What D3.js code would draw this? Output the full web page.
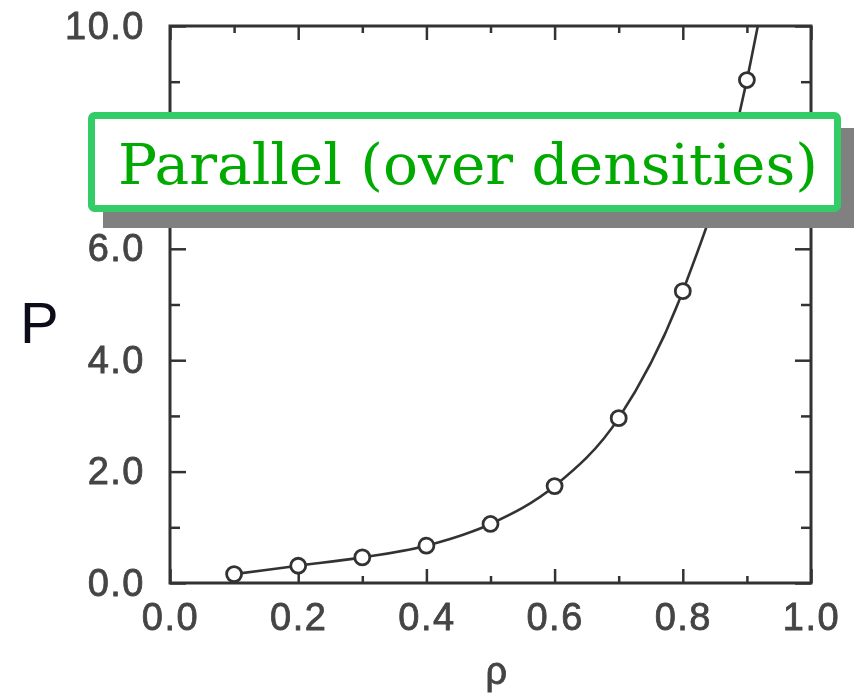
<!doctype html>
<html>
<head>
<meta charset="utf-8">
<script src="https://cdn.jsdelivr.net/npm/d3@7"></script>
<style>
  html, body { margin: 0; padding: 0; background: #fff; }
</style>
</head>
<body>
<script>
// Data
const rho = [0.1, 0.2, 0.3, 0.4, 0.5, 0.6, 0.7, 0.8, 0.9];
const pressure = [0.16, 0.31, 0.46, 0.67, 1.06, 1.74, 2.96, 5.24, 9.03];
// fitted curve continues past the last point up to the top of the frame
const curveEndRho = 0.917;
const curveEndP = 10.0;

const xMajor = [0.0, 0.2, 0.4, 0.6, 0.8, 1.0];
const xMinor = [0.1, 0.3, 0.5, 0.7, 0.9];
const yMajor = [0, 2, 4, 6, 8, 10];
const yMinor = [1, 3, 5, 7, 9];

const annotation = "Parallel (over densities)";

const W = 854, H = 697;
const plot = { left: 170, right: 811, top: 26, bottom: 583 };
const ink = "#333";

const x = d3.scaleLinear().domain([0, 1]).range([plot.left, plot.right]);
const y = d3.scaleLinear().domain([0, 10]).range([plot.bottom, plot.top]);

const svg = d3.select("body").append("svg")
  .attr("width", W).attr("height", H)
  .style("display", "block");

const defs = svg.append("defs");
defs.append("filter").attr("id", "soft")
  .append("feGaussianBlur").attr("stdDeviation", 0.7);
defs.append("clipPath").attr("id", "plotclip")
  .append("rect")
  .attr("x", plot.left).attr("y", plot.top)
  .attr("width", plot.right - plot.left)
  .attr("height", plot.bottom - plot.top);

const chart = svg.append("g").attr("filter", "url(#soft)");

const fmt = d3.format(".1f");
const tickFont = '"Liberation Sans", Arial, Helvetica, sans-serif';

function labelStyle(sel) {
  sel.attr("fill", "#444")
    .attr("stroke", "#444")
    .attr("stroke-width", 0.8)
    .attr("font-family", tickFont)
    .attr("font-size", 38)
    .attr("letter-spacing", 1.5);
}

function styleAxis(g, withText) {
  g.select(".domain").remove();
  g.selectAll("line").attr("stroke", ink).attr("stroke-width", 2.5);
  if (withText) {
    g.selectAll("text").call(labelStyle);
  } else {
    g.selectAll("text").remove();
  }
}

// Bottom axis (ticks point inward)
chart.append("g")
  .attr("transform", `translate(0,${plot.bottom})`)
  .call(d3.axisBottom(x).tickValues(xMajor).tickSize(-14).tickPadding(20).tickFormat(fmt))
  .call(g => styleAxis(g, true));
chart.append("g")
  .attr("transform", `translate(0,${plot.bottom})`)
  .call(d3.axisBottom(x).tickValues(xMinor).tickSize(-7))
  .call(g => styleAxis(g, false));

// Top axis
chart.append("g")
  .attr("transform", `translate(0,${plot.top})`)
  .call(d3.axisTop(x).tickValues(xMajor).tickSize(-14))
  .call(g => styleAxis(g, false));
chart.append("g")
  .attr("transform", `translate(0,${plot.top})`)
  .call(d3.axisTop(x).tickValues(xMinor).tickSize(-7))
  .call(g => styleAxis(g, false));

// Left axis
chart.append("g")
  .attr("transform", `translate(${plot.left},0)`)
  .call(d3.axisLeft(y).tickValues(yMajor).tickSize(-16).tickPadding(25).tickFormat(fmt))
  .call(g => styleAxis(g, true));
chart.append("g")
  .attr("transform", `translate(${plot.left},0)`)
  .call(d3.axisLeft(y).tickValues(yMinor).tickSize(-10))
  .call(g => styleAxis(g, false));

// Right axis
chart.append("g")
  .attr("transform", `translate(${plot.right},0)`)
  .call(d3.axisRight(y).tickValues(yMajor).tickSize(-16))
  .call(g => styleAxis(g, false));
chart.append("g")
  .attr("transform", `translate(${plot.right},0)`)
  .call(d3.axisRight(y).tickValues(yMinor).tickSize(-10))
  .call(g => styleAxis(g, false));

// Frame
chart.append("rect")
  .attr("x", plot.left).attr("y", plot.top)
  .attr("width", plot.right - plot.left)
  .attr("height", plot.bottom - plot.top)
  .attr("fill", "none")
  .attr("stroke", ink)
  .attr("stroke-width", 3);

// Curve
const curvePts = rho.map((r, i) => [r, pressure[i]]).concat([[curveEndRho, curveEndP]]);
chart.append("path")
  .datum(curvePts)
  .attr("clip-path", "url(#plotclip)")
  .attr("fill", "none")
  .attr("stroke", ink)
  .attr("stroke-width", 2.6)
  .attr("d", d3.line().x(d => x(d[0])).y(d => y(d[1])).curve(d3.curveMonotoneX));

// Markers
chart.append("g")
  .selectAll("circle")
  .data(rho.map((r, i) => ({ r, p: pressure[i] })))
  .join("circle")
  .attr("cx", d => x(d.r))
  .attr("cy", d => y(d.p))
  .attr("r", 7.5)
  .attr("fill", "#fff")
  .attr("stroke", ink)
  .attr("stroke-width", 2.8);

// Axis titles
chart.append("text")
  .attr("x", 497).attr("y", 684)
  .attr("text-anchor", "middle")
  .call(labelStyle)
  .text("ρ");

svg.append("text")
  .attr("x", 20).attr("y", 343)
  .attr("fill", "#0d0d1a")
  .attr("font-family", tickFont)
  .attr("font-size", 58)
  .text("P");

// Annotation box with drop shadow
const box = { x: 88, y: 112, w: 753, h: 100, border: 7 };
svg.append("rect")
  .attr("x", box.x + 15).attr("y", box.y + 16)
  .attr("width", box.w).attr("height", box.h)
  .attr("fill", "#808080");
svg.append("rect")
  .attr("x", box.x + box.border / 2).attr("y", box.y + box.border / 2)
  .attr("width", box.w - box.border).attr("height", box.h - box.border)
  .attr("rx", 3)
  .attr("fill", "#fff")
  .attr("stroke", "#33cc66")
  .attr("stroke-width", box.border);
svg.append("text")
  .attr("x", 468).attr("y", 184)
  .attr("text-anchor", "middle")
  .attr("fill", "#00aa00")
  .attr("font-family", '"DejaVu Serif", "Liberation Serif", serif')
  .attr("font-size", 56)
  .attr("textLength", 700)
  .attr("lengthAdjust", "spacingAndGlyphs")
  .text(annotation);
</script>
</body>
</html>
